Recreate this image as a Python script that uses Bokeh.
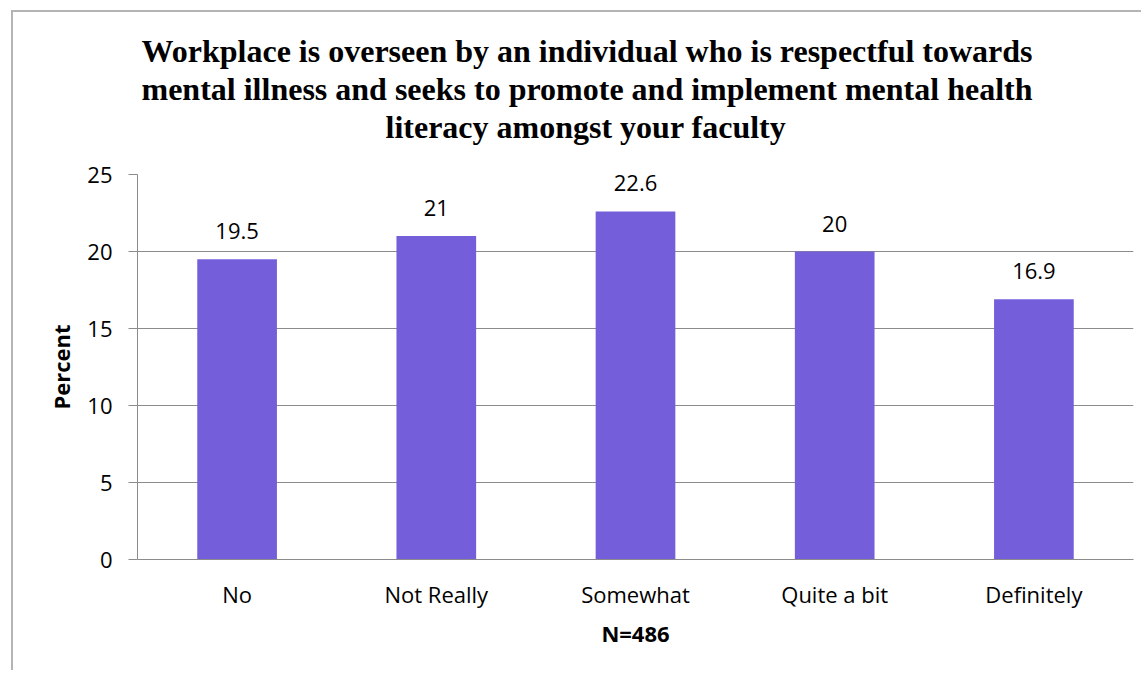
from bokeh.plotting import figure
from bokeh.models import ColumnDataSource, FactorRange, Range1d, Title, FixedTicker, LinearAxis
from bokeh.embed import file_html
from bokeh.resources import INLINE
from bokeh.core.properties import value

categories = ["No", "Not Really", "Somewhat", "Quite a bit", "Definitely"]
percent = [19.5, 21, 22.6, 20, 16.9]
bar_labels = ["19.5", "21", "22.6", "20", "16.9"]
y_ticks = [0, 5, 10, 15, 20, 25]
title_lines = [
    "Workplace is overseen by an individual who is respectful towards",
    "mental illness and seeks to promote and implement mental health",
    "literacy amongst your faculty",
]
title_offsets = [4, 4, 248]
x_label = "N=486"
y_label = "Percent"

BAR = "#755EDA"
GRID = "#8C8C8C"
SANS = "Open Sans"

src = ColumnDataSource(dict(cat=categories, val=percent, lab=bar_labels))

p = figure(
    x_range=FactorRange(*categories, range_padding=0),
    y_range=Range1d(0, 25),
    width=1130, height=660,
    output_backend="svg", toolbar_location=None,
    min_border_left=124, min_border_right=10,
    min_border_top=162, min_border_bottom=113,
)
p.margin = (10, 0, 0, 11)
p.styles = {"border-left": "2px solid #b4b4b4", "border-top": "2px solid #b4b4b4"}
p.outline_line_color = None
p.background_fill_color = "white"

xax = p.xaxis[0]
yax = p.yaxis[0]

p.vbar(x="cat", top="val", width=0.4, source=src, fill_color=BAR, line_color=None)
p.text(x="cat", y="val", text="lab", source=src, y_offset=-20,
       text_align="center", text_baseline="bottom",
       text_font=value(SANS), text_font_size="22px", text_color="#000000")

# invisible spacer between the plot frame and the title block
spacer = LinearAxis(ticker=FixedTicker(ticks=[2.5]), major_label_overrides={2.5: ""},
                    axis_line_color=None, major_tick_line_color=None,
                    minor_tick_line_color=None, major_tick_out=30, major_tick_in=0,
                    minor_tick_out=0, major_label_standoff=0,
                    major_label_text_font_size="1px")
p.add_layout(spacer, "above")

for line, off in reversed(list(zip(title_lines, title_offsets))):
    p.add_layout(Title(text=line, align="left", offset=off, standoff=0,
                       text_font="Liberation Serif", text_font_style="bold",
                       text_font_size="32px", text_color="#000000"), "above")

yax.ticker = FixedTicker(ticks=y_ticks)
p.ygrid.ticker = FixedTicker(ticks=y_ticks)
p.ygrid.grid_line_color = GRID
p.xgrid.grid_line_color = None

for ax in (xax, yax):
    ax.axis_line_color = GRID
    ax.major_label_text_font = SANS
    ax.major_label_text_font_size = "22px"
    ax.major_label_text_color = "#000000"
    ax.axis_label_text_font = SANS
    ax.axis_label_text_font_style = "bold"
    ax.axis_label_text_font_size = "22px"
    ax.axis_label_text_color = "#000000"
    ax.minor_tick_line_color = None

xax.axis_label = x_label
xax.major_tick_line_color = None
xax.major_label_standoff = 13
xax.axis_label_standoff = 6

yax.axis_label = y_label
yax.major_tick_line_color = GRID
yax.major_tick_out = 9
yax.major_tick_in = 0
yax.major_label_standoff = 16
yax.axis_label_standoff = 8

open("out.html", "w").write(file_html(p, INLINE))
